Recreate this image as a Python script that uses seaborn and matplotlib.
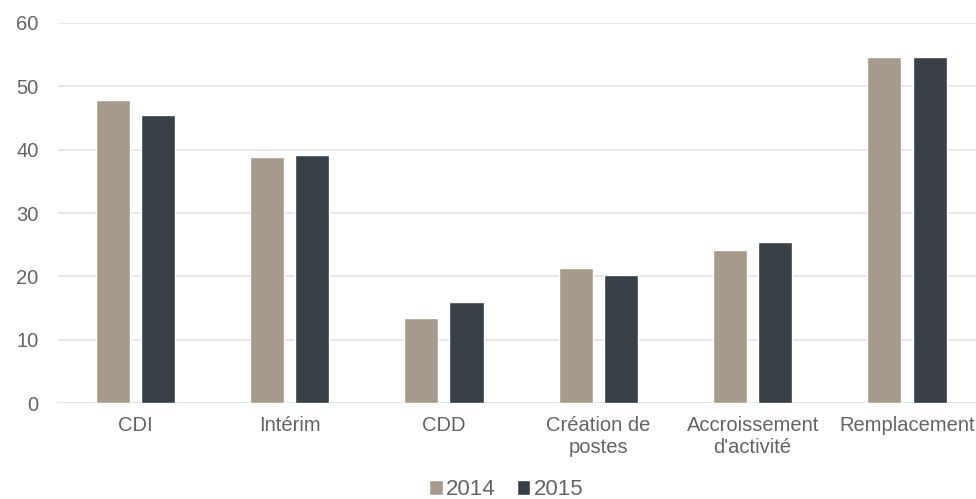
import pandas as pd
import seaborn as sns
import matplotlib.pyplot as plt

# Données
categories = ["CDI", "Intérim", "CDD", "Création de\npostes",
              "Accroissement\nd'activité", "Remplacement"]
valeurs_2014 = [47.8, 38.9, 13.5, 21.4, 24.1, 54.7]
valeurs_2015 = [45.4, 39.1, 15.9, 20.3, 25.4, 54.6]
annees = ["2014", "2015"]
couleurs = ["#A89A8B", "#373F47"]

df = pd.DataFrame({
    "Catégorie": categories * 2,
    "Année": [annees[0]] * len(categories) + [annees[1]] * len(categories),
    "Valeur": valeurs_2014 + valeurs_2015,
})

sns.set_style("white")
plt.rcParams["font.family"] = ["Liberation Sans", "DejaVu Sans"]

fig = plt.figure(figsize=(9.76, 4.99), dpi=100)
ax = fig.add_axes([0.0594, 0.192, 0.949, 0.762])

sns.barplot(data=df, x="Catégorie", y="Valeur", hue="Année",
            palette=couleurs, width=0.585, gap=0.245, saturation=1,
            ax=ax, legend=True)

ax.set_ylim(0, 60)
ax.set_yticks(range(0, 61, 10))
ax.set_xlim(-0.5, len(categories) - 0.5)
ax.grid(axis="y", color="#E3E3E3", linewidth=1.2)
ax.set_axisbelow(True)
sns.despine(ax=ax, left=True, bottom=True, top=True, right=True)
ax.axhline(0, color="#D9D9D9", linewidth=1.2, zorder=0.5)

ax.set_xlabel("")
ax.set_ylabel("")
ax.tick_params(axis="both", length=0, labelsize=14.5, labelcolor="#646464")
ax.tick_params(axis="y", pad=14)
ax.tick_params(axis="x", pad=9)
for lab in ax.get_xticklabels():
    lab.set_linespacing(1.25)

ax.legend(loc="lower center", bbox_to_anchor=(0.484, -0.308), ncol=2,
          frameon=False, fontsize=16, labelcolor="#646464",
          handlelength=0.6, handleheight=0.6, handletextpad=0.15,
          columnspacing=0.95)

fig.savefig("out.png", dpi=100)
